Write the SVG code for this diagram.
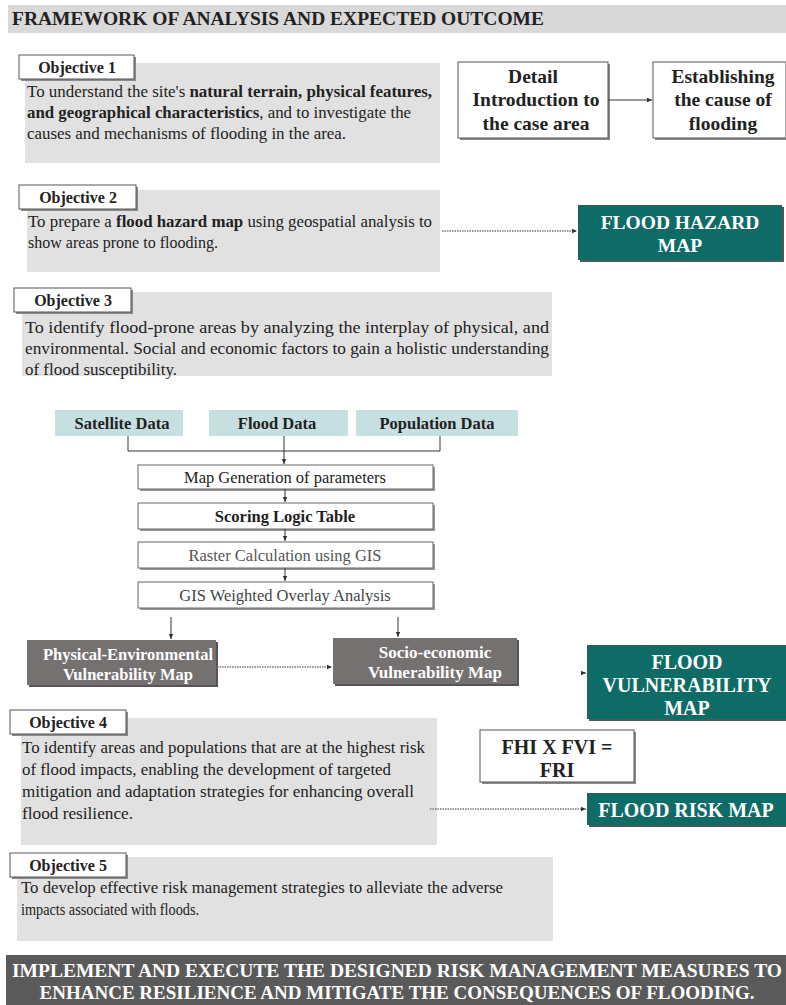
<svg xmlns="http://www.w3.org/2000/svg" width="786" height="1005" viewBox="0 0 786 1005">
<style>
text{font-family:"Liberation Serif","Times New Roman",serif;fill:#222}
.b{font-weight:bold}
.lbl{font-size:16px;font-weight:bold;text-anchor:middle}
.body{font-size:16px}
.gray{fill:#e1e1e1}
.wbox{fill:#fff;stroke:#555;stroke-width:1}
.shadow{fill:#8a8a8a}
.teal{fill:#0f6b66}
.tw{fill:#fff;font-weight:bold;text-anchor:middle}
.data{fill:#c6dfe0}
.pv{fill:#767171}
.step{fill:#fff;stroke:#666;stroke-width:1}
.c{text-anchor:middle}
.ln{stroke:#333;stroke-width:1;fill:none}
.dot{stroke:#777;stroke-width:1.3;stroke-dasharray:1.5 1;fill:none}
</style>
<defs>
<marker id="ah" markerWidth="6" markerHeight="6" refX="5" refY="3" orient="auto" markerUnits="userSpaceOnUse">
<path d="M0,0.8 L5,3 L0,5.2 z" fill="#333"/>
</marker>
</defs>

<g id="title">
<rect x="8" y="5" width="778" height="28" fill="#d9d9d9"/>
<text x="12" y="25" class="b" font-size="18" textLength="532" lengthAdjust="spacingAndGlyphs">FRAMEWORK OF ANALYSIS AND EXPECTED OUTCOME</text>
</g>

<g id="objective1">
<rect class="gray" x="25" y="63" width="415" height="100"/>
<rect class="shadow" x="21" y="57" width="115" height="24"/>
<rect class="wbox" x="19" y="55" width="115" height="24"/>
<text class="lbl" x="77" y="72.5">Objective 1</text>
<text class="body" x="27" y="97" textLength="405" lengthAdjust="spacingAndGlyphs">To understand the site's <tspan class="b">natural terrain, physical features,</tspan></text>
<text class="body" x="27" y="118" textLength="384" lengthAdjust="spacingAndGlyphs"><tspan class="b">and geographical characteristics</tspan>, and to investigate the</text>
<text class="body" x="27" y="139" textLength="319" lengthAdjust="spacingAndGlyphs">causes and mechanisms of flooding in the area.</text>
</g>

<g id="detail">
<rect class="shadow" x="460" y="64" width="150" height="76"/>
<rect class="wbox" x="458" y="62" width="150" height="76"/>
<text class="b c" font-size="19.5" x="533" y="83">Detail</text>
<text class="b c" font-size="19.5" x="536" y="106">Introduction to</text>
<text class="b c" font-size="19.5" x="536" y="130">the case area</text>
</g>

<g id="cause">
<rect class="shadow" x="655" y="64" width="133" height="76"/>
<rect class="wbox" x="653" y="62" width="133" height="76"/>
<text class="b c" font-size="19.5" x="723" y="83">Establishing</text>
<text class="b c" font-size="19.5" x="723" y="106">the cause of</text>
<text class="b c" font-size="19.5" x="723" y="130">flooding</text>
</g>

<g id="objective2">
<rect class="gray" x="27" y="190" width="413" height="82"/>
<rect class="shadow" x="21" y="187" width="117" height="24"/>
<rect class="wbox" x="19" y="185" width="117" height="24"/>
<text class="lbl" x="78" y="202.5">Objective 2</text>
<text class="body" x="28" y="227" textLength="404" lengthAdjust="spacingAndGlyphs">To prepare a <tspan class="b">flood hazard map</tspan> using geospatial analysis to</text>
<text class="body" x="28" y="248" textLength="190" lengthAdjust="spacingAndGlyphs">show areas prone to flooding.</text>
</g>

<g id="hazard">
<rect fill="#555" x="580" y="207" width="204" height="55"/>
<rect class="teal" x="578" y="205" width="204" height="55"/>
<text class="tw" font-size="19.5" x="680" y="229">FLOOD HAZARD</text>
<text class="tw" font-size="19.5" x="680" y="252">MAP</text>
</g>

<g id="objective3">
<rect class="gray" x="22" y="292" width="530" height="84"/>
<rect class="shadow" x="16" y="290" width="117" height="24"/>
<rect class="wbox" x="14" y="288" width="117" height="24"/>
<text class="lbl" x="73" y="305.5">Objective 3</text>
<text class="body" x="25" y="333" textLength="524" lengthAdjust="spacingAndGlyphs">To identify flood-prone areas by analyzing the interplay of physical, and</text>
<text class="body" x="25" y="354" textLength="524" lengthAdjust="spacingAndGlyphs">environmental. Social and economic factors to gain a holistic understanding</text>
<text class="body" x="25" y="375" textLength="152" lengthAdjust="spacingAndGlyphs">of flood susceptibility.</text>
</g>

<g id="satellite">
<rect class="data" x="55" y="410" width="128" height="26"/>
<text class="b c" font-size="16.5" x="122" y="429">Satellite Data</text>
</g>
<g id="flooddata">
<rect class="data" x="209" y="410" width="139" height="26"/>
<text class="b c" font-size="16.5" x="277" y="429">Flood Data</text>
</g>
<g id="population">
<rect class="data" x="356" y="410" width="162" height="26"/>
<text class="b c" font-size="16.5" x="437" y="429">Population Data</text>
</g>

<g id="mapgen">
<rect fill="#999" x="140" y="467" width="295" height="24"/>
<rect class="step" x="138" y="465" width="295" height="24"/>
<text class="c" font-size="16.5" x="285" y="483">Map Generation of parameters</text>
</g>
<g id="scoring">
<rect fill="#999" x="140" y="505" width="295" height="26"/>
<rect class="step" x="138" y="503" width="295" height="26"/>
<text class="c b" font-size="16.5" x="285" y="522">Scoring Logic Table</text>
</g>
<g id="raster">
<rect fill="#999" x="140" y="544" width="295" height="26"/>
<rect class="step" x="138" y="542" width="295" height="26"/>
<text class="c" font-size="16.5" x="285" y="561" style="fill:#555">Raster Calculation using GIS</text>
</g>
<g id="overlay">
<rect fill="#999" x="140" y="584" width="295" height="26"/>
<rect class="step" x="138" y="582" width="295" height="26"/>
<text class="c" font-size="16.5" x="285" y="601" style="fill:#444">GIS Weighted Overlay Analysis</text>
</g>

<g id="physical">
<rect fill="#555" x="29" y="642" width="189" height="45"/>
<rect class="pv" x="27" y="640" width="189" height="45"/>
<text class="tw" font-size="16.5" x="128" y="660">Physical-Environmental</text>
<text class="tw" font-size="16.5" x="128" y="680">Vulnerability Map</text>
</g>
<g id="socio">
<rect fill="#555" x="335" y="640" width="184" height="46"/>
<rect class="pv" x="333" y="638" width="184" height="46"/>
<text class="tw" font-size="17" x="435" y="658">Socio-economic</text>
<text class="tw" font-size="17" x="435" y="678">Vulnerability Map</text>
</g>

<g id="vulnerability">
<rect fill="#555" x="589" y="647" width="199" height="74"/>
<rect class="teal" x="587" y="645" width="199" height="74"/>
<text class="tw" font-size="20" x="687" y="669">FLOOD</text>
<text class="tw" font-size="20" x="687" y="692">VULNERABILITY</text>
<text class="tw" font-size="20" x="687" y="715">MAP</text>
</g>

<g id="objective4">
<rect class="gray" x="21" y="718" width="416" height="127"/>
<rect class="shadow" x="12" y="712" width="116" height="24"/>
<rect class="wbox" x="10" y="710" width="116" height="24"/>
<text class="lbl" x="68" y="727.5">Objective 4</text>
<text class="body" x="22" y="753" textLength="403" lengthAdjust="spacingAndGlyphs">To identify areas and populations that are at the highest risk</text>
<text class="body" x="22" y="775" textLength="369" lengthAdjust="spacingAndGlyphs">of flood impacts, enabling the development of targeted</text>
<text class="body" x="22" y="797" textLength="392" lengthAdjust="spacingAndGlyphs">mitigation and adaptation strategies for enhancing overall</text>
<text class="body" x="22" y="819" textLength="111" lengthAdjust="spacingAndGlyphs">flood resilience.</text>
</g>

<g id="formula">
<rect class="shadow" x="482" y="732" width="154" height="52"/>
<rect class="wbox" x="480" y="730" width="154" height="52"/>
<text class="b c" font-size="20" x="557" y="754">FHI X FVI =</text>
<text class="b c" font-size="20" x="557" y="777">FRI</text>
</g>

<g id="risk">
<rect fill="#555" x="589" y="795" width="199" height="32"/>
<rect class="teal" x="587" y="793" width="199" height="32"/>
<text class="tw" font-size="20" x="686" y="817">FLOOD RISK MAP</text>
</g>

<g id="objective5">
<rect class="gray" x="17" y="857" width="536" height="84"/>
<rect class="shadow" x="12" y="855" width="116" height="24"/>
<rect class="wbox" x="10" y="853" width="116" height="24"/>
<text class="lbl" x="68" y="870.5">Objective 5</text>
<text class="body" x="21" y="893" textLength="482" lengthAdjust="spacingAndGlyphs">To develop effective risk management strategies to alleviate the adverse</text>
<text class="body" x="21" y="915" textLength="178" lengthAdjust="spacingAndGlyphs">impacts associated with floods.</text>
</g>

<g id="implement">
<rect x="6" y="955" width="780" height="50" fill="#5a5a5a"/>
<text class="tw" font-size="19" x="397" y="977" textLength="770" lengthAdjust="spacingAndGlyphs">IMPLEMENT AND EXECUTE THE DESIGNED RISK MANAGEMENT MEASURES TO</text>
<text class="tw" font-size="19" x="397" y="999" textLength="715" lengthAdjust="spacingAndGlyphs">ENHANCE RESILIENCE AND MITIGATE THE CONSEQUENCES OF FLOODING.</text>
</g>

<g id="connectors">
<line class="ln" x1="608" y1="100" x2="652" y2="100" marker-end="url(#ah)" stroke="#888"/>
<line class="dot" x1="442" y1="231" x2="577" y2="231" marker-end="url(#ah)"/>
<polyline class="ln" points="128,436 128,451 440,451 440,436"/>
<line class="ln" x1="284" y1="436" x2="284" y2="464" marker-end="url(#ah)"/>
<line class="ln" x1="285" y1="489" x2="285" y2="502" marker-end="url(#ah)"/>
<line class="ln" x1="285" y1="529" x2="285" y2="541" marker-end="url(#ah)"/>
<line class="ln" x1="285" y1="568" x2="285" y2="581" marker-end="url(#ah)"/>
<line class="ln" x1="171" y1="617" x2="171" y2="639" marker-end="url(#ah)"/>
<line class="ln" x1="398" y1="617" x2="398" y2="637" marker-end="url(#ah)"/>
<line class="dot" x1="217" y1="667" x2="332" y2="667" marker-end="url(#ah)"/>
<line class="ln" x1="581" y1="673" x2="586" y2="673" marker-end="url(#ah)"/>
<line class="dot" x1="430" y1="809" x2="586" y2="809" marker-end="url(#ah)"/>
</g>
</svg>
